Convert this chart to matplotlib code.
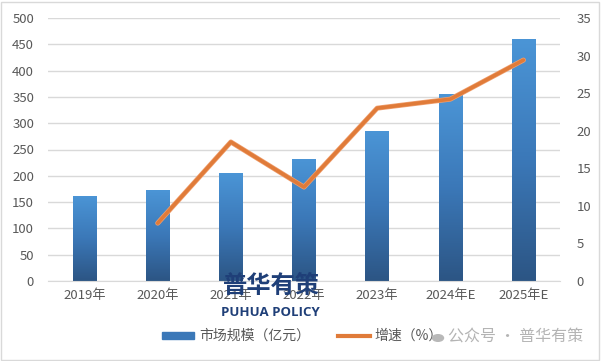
import matplotlib
matplotlib.use("Agg")
import matplotlib.pyplot as plt
import numpy as np
from matplotlib.patches import Rectangle, Circle
from matplotlib.lines import Line2D
from matplotlib.colors import LinearSegmentedColormap

plt.rcParams['font.family'] = ['Noto Sans CJK SC', 'DejaVu Sans']

categories = ['2019年', '2020年', '2021年', '2022年', '2023年', '2024年E', '2025年E']
market_size = [162, 173, 205, 232, 285, 355, 460]
growth_x = ['2020年', '2021年', '2022年', '2023年', '2024年E', '2025年E']
growth = [7.7, 18.5, 12.5, 23.0, 24.2, 29.4]
left_ticks = [0, 50, 100, 150, 200, 250, 300, 350, 400, 450, 500]
right_ticks = [0, 5, 10, 15, 20, 25, 30, 35]

W, H = 601, 361
fig = plt.figure(figsize=(W / 100, H / 100), dpi=100)
ax = fig.add_axes([48 / W, 1 - 281 / H, (560 - 48) / W, (281 - 18) / H])
ax2 = ax.twinx()

x = np.arange(len(categories))
bw = 0.32
cmap = LinearSegmentedColormap.from_list('bar', ['#2c5584', '#3b78b8', '#4b95d6'])
bars = ax.bar(x, market_size, width=bw, color='none', edgecolor='none', zorder=2)
grad = np.linspace(0, 1, 256).reshape(-1, 1)
for b in bars:
    x0, y0 = b.get_x(), b.get_y()
    w, h = b.get_width(), b.get_height()
    im = ax.imshow(grad, cmap=cmap, aspect='auto', origin='lower',
                   extent=[x0, x0 + w, y0, y0 + h], zorder=2)
    im.set_clip_path(b)

ax.set_xlim(-0.5, len(categories) - 0.5)
ax.set_ylim(0, 500)
ax.set_yticks(left_ticks)
ax.set_xticks(x)
ax.set_xticklabels(categories)
ax.grid(axis='y', color='#d9d9d9', linewidth=1, zorder=0)
ax.set_axisbelow(True)
for s in ax.spines.values():
    s.set_visible(False)
for s in ax2.spines.values():
    s.set_visible(False)
ax.spines['bottom'].set_visible(True)
ax.spines['bottom'].set_color('#d9d9d9')
ax.tick_params(axis='both', length=0, colors='#595959', labelsize=9.5)
ax.tick_params(axis='y', pad=10)
ax.tick_params(axis='x', pad=6)

gx = [categories.index(c) for c in growth_x]
ax2.plot(gx, growth, color='#f0a070', linewidth=3.6, solid_capstyle='round', zorder=3)
ax2.plot(gx, growth, color='#e07b39', linewidth=2.6, solid_capstyle='round', zorder=4)
ax2.set_ylim(0, 35)
ax2.set_yticks(right_ticks)
ax2.tick_params(axis='y', length=0, colors='#595959', labelsize=9.5, pad=12)
ax2.set_xlim(-0.5, len(categories) - 0.5)

# legend
handles = [Rectangle((0, 0), 1, 1, color='#3b78b8'),
           Line2D([0], [0], color='#e07b39', linewidth=3)]
fig.legend(handles, ['市场规模（亿元）', '增速（%）'], loc='center left',
           bbox_to_anchor=(162 / W, 1 - 336 / H), ncol=2, frameon=False,
           fontsize=10, labelcolor='#595959', handlelength=2.3,
           handleheight=0.4, handletextpad=0.35, columnspacing=2.0,
           borderpad=0, borderaxespad=0)

# watermarks
fig.text(271 / W, 1 - 286 / H, '普华有策', fontsize=17.5, fontweight='heavy',
         color='#1f3f78', ha='center', va='center', zorder=10)
fig.text(270 / W, 1 - 312 / H, 'PUHUA POLICY', fontsize=9.5, fontweight='bold',
         color='#1f3f78', ha='center', va='center', zorder=10,
         family=['Open Sans', 'DejaVu Sans'])
fig.patches.append(Circle((438 / W, 1 - 338 / H), 5.5 / W, transform=fig.transFigure,
                          color='#b8b8b8', zorder=10))
fig.text(448 / W, 1 - 337 / H, '公众号 · 普华有策', fontsize=11.5, color='#b4b4b4',
         ha='left', va='center', zorder=10)

fig.patches.append(Rectangle((1 / W, 1 / H), (W - 3) / W, (H - 3) / H,
                             transform=fig.transFigure, fill=False,
                             edgecolor='#d9d9d9', linewidth=1))

fig.savefig('out.png', dpi=100)
